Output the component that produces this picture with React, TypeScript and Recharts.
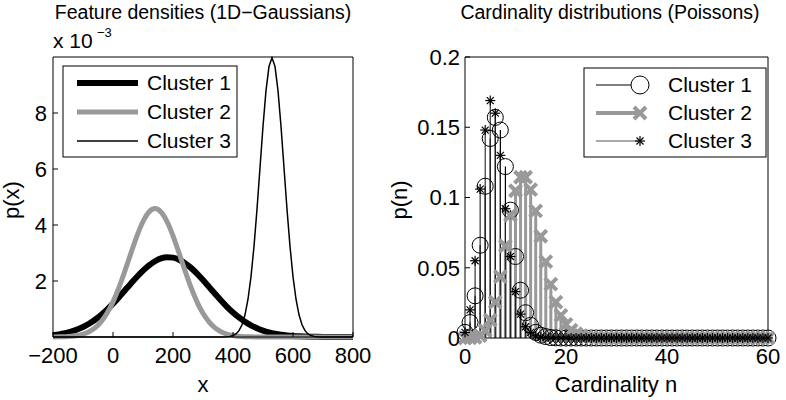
import React from 'react';
import { LineChart, Line, XAxis, YAxis, ScatterChart, Scatter, ErrorBar } from 'recharts';

const FONT = '"Liberation Sans", Arial, Helvetica, sans-serif';
const GRAY = '#999999';

// ---- left panel: feature densities (values in units of 1e-3) ----
const densityX = [
  -200, -180, -160, -140, -120, -100, -80, -60, -40, -20,
  0, 20, 40, 60, 80, 100, 120, 140, 160, 180,
  200, 220, 240, 260, 280, 300, 320, 340, 360, 380,
  400, 420, 440, 460, 480, 500, 520, 540, 560, 580,
  600, 620, 640, 660, 680, 700, 720, 740, 760, 780, 800,
];
const cluster1Density = [
  0.065, 0.095, 0.137, 0.192, 0.266, 0.359, 0.475, 0.617, 0.784, 0.976,
  1.19, 1.423, 1.667, 1.913, 2.151, 2.37, 2.559, 2.706, 2.805, 2.848,
  2.834, 2.762, 2.638, 2.469, 2.264, 2.034, 1.79, 1.544, 1.305, 1.08,
  0.876, 0.697, 0.543, 0.414, 0.31, 0.227, 0.163, 0.115, 0.079, 0.053,
  0.035, 0.023, 0.015, 0.009, 0.005, 0.003, 0.002, 0.001, 0.0005, 0.0003, 0.0002,
];
const cluster2Density = [
  0.002, 0.005, 0.012, 0.026, 0.053, 0.102, 0.188, 0.326, 0.539, 0.845,
  1.256, 1.771, 2.369, 3.004, 3.614, 4.125, 4.465, 4.585, 4.465, 4.125,
  3.614, 3.004, 2.369, 1.771, 1.256, 0.845, 0.539, 0.326, 0.188, 0.102,
  0.053, 0.026, 0.012, 0.005, 0.002, 0.001, 0, 0, 0, 0,
  0, 0, 0, 0, 0, 0, 0, 0, 0, 0, 0,
];
const cluster3X = [
  -200, 370, 380, 390, 400, 410, 420, 430, 440, 450, 460, 470, 480, 490, 500, 510, 520,
  530, 540, 550, 560, 570, 580, 590, 600, 610, 620, 630, 640, 650, 660, 670, 680, 690, 800,
];
const cluster3Density = [
  0, 0.003, 0.009, 0.022, 0.051, 0.111, 0.227, 0.438, 0.794, 1.349, 2.159, 3.237, 4.565, 6.047, 7.525, 8.798, 9.663,
  9.974, 9.663, 8.798, 7.525, 6.047, 4.565, 3.237, 2.159, 1.349, 0.794, 0.438, 0.227, 0.111, 0.051, 0.022, 0.009, 0.003, 0,
];
const densityXTicks = [-200, 0, 200, 400, 600, 800];
const densityYTicks = [2, 4, 6, 8];

// ---- right panel: cardinality distributions ----
const cardinality = [
  0, 1, 2, 3, 4, 5, 6, 7, 8, 9, 10, 11, 12, 13, 14, 15, 16, 17, 18, 19, 20,
  21, 22, 23, 24, 25, 26, 27, 28, 29, 30, 31, 32, 33, 34, 35, 36, 37, 38, 39, 40,
  41, 42, 43, 44, 45, 46, 47, 48, 49, 50, 51, 52, 53, 54, 55, 56, 57, 58, 59, 60,
];
const cluster1Poisson = [
  0.004, 0.011, 0.03, 0.066, 0.108, 0.142, 0.157, 0.148, 0.122, 0.091, 0.058, 0.034, 0.018, 0.009, 0.004, 0.002, 0.001, 0.0003, 0.0001, 0, 0,
  0, 0, 0, 0, 0, 0, 0, 0, 0, 0, 0, 0, 0, 0, 0, 0, 0, 0, 0, 0,
  0, 0, 0, 0, 0, 0, 0, 0, 0, 0, 0, 0, 0, 0, 0, 0, 0, 0, 0, 0,
];
const cluster2Poisson = [
  0, 0.0001, 0.0004, 0.0018, 0.0053, 0.0127, 0.0255, 0.0437, 0.0655, 0.0874, 0.1048, 0.1144, 0.1144, 0.1056, 0.0905, 0.0724, 0.0543, 0.0383, 0.0255, 0.0161, 0.0097,
  0.0055, 0.003, 0.0016, 0.0008, 0.0004, 0.0002, 0.0001, 0, 0, 0, 0, 0, 0, 0, 0, 0, 0, 0, 0, 0,
  0, 0, 0, 0, 0, 0, 0, 0, 0, 0, 0, 0, 0, 0, 0, 0, 0, 0, 0, 0,
];
const cluster3Poisson = [
  0.004, 0.02, 0.055, 0.106, 0.148, 0.169, 0.16, 0.13, 0.092, 0.058, 0.033, 0.017, 0.008, 0.004, 0.0015, 0.0005, 0.0002, 0, 0, 0, 0,
  0, 0, 0, 0, 0, 0, 0, 0, 0, 0, 0, 0, 0, 0, 0, 0, 0, 0, 0, 0,
  0, 0, 0, 0, 0, 0, 0, 0, 0, 0, 0, 0, 0, 0, 0, 0, 0, 0, 0, 0,
];
const cardXTicks = [0, 20, 40, 60];
const cardYTicks = [0, 0.05, 0.1, 0.15, 0.2];

const leftData = densityX.map((x, i) => ({ x, c1: cluster1Density[i], c2: cluster2Density[i] }));
const c3Data = cluster3X.map((x, i) => ({ x, c3: cluster3Density[i] }));
const toStems = (vals: number[]) => cardinality.map((n, i) => ({ n, p: vals[i], stem: [vals[i], 0] }));

const tickStyle = { fontSize: 22, fill: '#000', fontFamily: FONT };
const minus = (v: number) => String(v).replace('-', '\u2212');

const CircleMark = (props: any) => (
  <circle cx={props.cx} cy={props.cy} r={8} fill="none" stroke="#000" strokeWidth={1} />
);
const CrossMark = (props: any) => {
  const { cx, cy } = props;
  const s = 6;
  return (
    <g stroke={GRAY} strokeWidth={4}>
      <line x1={cx - s} y1={cy - s} x2={cx + s} y2={cy + s} />
      <line x1={cx - s} y1={cy + s} x2={cx + s} y2={cy - s} />
    </g>
  );
};
const StarMark = (props: any) => {
  const { cx, cy } = props;
  const s = 5;
  const d = 3.5;
  return (
    <g stroke="#000" strokeWidth={1.2}>
      <line x1={cx - s} y1={cy} x2={cx + s} y2={cy} />
      <line x1={cx} y1={cy - s} x2={cx} y2={cy + s} />
      <line x1={cx - d} y1={cy - d} x2={cx + d} y2={cy + d} />
      <line x1={cx - d} y1={cy + d} x2={cx + d} y2={cy - d} />
    </g>
  );
};

function DensityChart() {
  return (
    <LineChart width={393} height={400} data={leftData} margin={{ top: 56, right: 39, bottom: 33, left: 0 }}>
      <XAxis dataKey="x" type="number" domain={[-200, 800]} ticks={densityXTicks} tickFormatter={minus}
        stroke="#000" tick={tickStyle} tickSize={-5} tickMargin={15} height={30} />
      <XAxis xAxisId="top" orientation="top" dataKey="x" type="number" domain={[-200, 800]} ticks={densityXTicks}
        stroke="#000" tick={false} tickSize={-5} height={1} />
      <YAxis type="number" domain={[0, 10]} ticks={densityYTicks} stroke="#000" tick={tickStyle}
        tickSize={-5} tickMargin={11} width={53} />
      <YAxis yAxisId="right" orientation="right" type="number" domain={[0, 10]} ticks={densityYTicks}
        stroke="#000" tick={false} tickSize={-5} width={1} />
      <Line dataKey="c1" stroke="#000" strokeWidth={6} dot={false} isAnimationActive={false} type="monotone" />
      <Line dataKey="c2" stroke={GRAY} strokeWidth={5} dot={false} isAnimationActive={false} type="monotone" />
      <Line data={c3Data} dataKey="c3" stroke="#000" strokeWidth={1.5} dot={false} isAnimationActive={false} type="linear" />
    </LineChart>
  );
}

function CardinalityChart() {
  return (
    <ScatterChart width={393} height={400} margin={{ top: 56, right: 17, bottom: 32, left: 0 }}>
      <XAxis dataKey="n" type="number" domain={[0, 60]} ticks={cardXTicks} stroke="#000" tick={tickStyle}
        tickSize={-5} tickMargin={15} height={30} />
      <XAxis xAxisId="top" orientation="top" dataKey="n" type="number" domain={[0, 60]} ticks={cardXTicks}
        stroke="#000" tick={false} tickSize={-5} height={1} />
      <YAxis dataKey="p" type="number" domain={[0, 0.2]} ticks={cardYTicks} stroke="#000" tick={tickStyle}
        tickSize={-5} tickMargin={10} width={72} />
      <YAxis yAxisId="right" orientation="right" dataKey="p" type="number" domain={[0, 0.2]} ticks={cardYTicks}
        stroke="#000" tick={false} tickSize={-5} width={1} />
      <Scatter data={toStems(cluster1Poisson)} shape={CircleMark} isAnimationActive={false}>
        <ErrorBar dataKey="stem" direction="y" width={0} stroke="#000" strokeWidth={1.2} isAnimationActive={false} />
      </Scatter>
      <Scatter data={toStems(cluster2Poisson)} shape={CrossMark} isAnimationActive={false}>
        <ErrorBar dataKey="stem" direction="y" width={0} stroke={GRAY} strokeWidth={3} isAnimationActive={false} />
      </Scatter>
      <Scatter data={toStems(cluster3Poisson)} shape={StarMark} isAnimationActive={false}>
        <ErrorBar dataKey="stem" direction="y" width={0} stroke="#222" strokeWidth={1.1} isAnimationActive={false} />
      </Scatter>
    </ScatterChart>
  );
}

function Overlay() {
  const t = { fontFamily: FONT, fill: '#000' } as const;
  return (
    <svg width={786} height={400} style={{ position: 'absolute', left: 0, top: 0, pointerEvents: 'none' }}>
      <text x={203} y={19} fontSize={19.5} textAnchor="middle" {...t}>Feature densities (1D{'\u2212'}Gaussians)</text>
      <text x={610} y={19} fontSize={19.5} textAnchor="middle" {...t}>Cardinality distributions (Poissons)</text>
      <text x={53} y={48} fontSize={21} {...t}>x 10</text>
      <text x={97} y={37} fontSize={13} {...t}>{'\u2212'}3</text>
      <text x={203} y={392} fontSize={22} textAnchor="middle" {...t}>x</text>
      <text x={616} y={392} fontSize={22} textAnchor="middle" {...t}>Cardinality n</text>
      <text x={19} y={200} fontSize={22} textAnchor="middle" transform="rotate(-90 19 200)" {...t}>p(x)</text>
      <text x={407} y={200} fontSize={22} textAnchor="middle" transform="rotate(-90 407 200)" {...t}>p(n)</text>

      {/* left legend */}
      <rect x={63} y={66} width={174} height={91} fill="#fff" stroke="#000" strokeWidth={1} />
      <line x1={77} y1={83} x2={138} y2={83} stroke="#000" strokeWidth={6} />
      <line x1={77} y1={112} x2={138} y2={112} stroke={GRAY} strokeWidth={5} />
      <line x1={77} y1={141} x2={138} y2={141} stroke="#000" strokeWidth={1.5} />
      <text x={147} y={90} fontSize={21} {...t}>Cluster 1</text>
      <text x={147} y={119} fontSize={21} {...t}>Cluster 2</text>
      <text x={147} y={148} fontSize={21} {...t}>Cluster 3</text>

      {/* right legend */}
      <rect x={584} y={68} width={182} height={89} fill="#fff" stroke="#000" strokeWidth={1} />
      <line x1={596} y1={85} x2={631} y2={85} stroke="#000" strokeWidth={1} />
      <circle cx={640} cy={85} r={9} fill="none" stroke="#000" strokeWidth={1} />
      <line x1={596} y1={113} x2={640} y2={113} stroke={GRAY} strokeWidth={4} />
      <CrossMark cx={640} cy={113} />
      <line x1={596} y1={141} x2={640} y2={141} stroke="#555" strokeWidth={1} />
      <StarMark cx={640} cy={141} />
      <text x={668} y={92} fontSize={21} {...t}>Cluster 1</text>
      <text x={668} y={120} fontSize={21} {...t}>Cluster 2</text>
      <text x={668} y={148} fontSize={21} {...t}>Cluster 3</text>
    </svg>
  );
}

export default function App() {
  return (
    <div style={{ position: 'absolute', left: 0, top: 0, width: 786, height: 400, background: '#fff', fontFamily: FONT }}>
      <div style={{ position: 'absolute', left: 0, top: 0 }}>
        <DensityChart />
      </div>
      <div style={{ position: 'absolute', left: 393, top: 0 }}>
        <CardinalityChart />
      </div>
      <Overlay />
    </div>
  );
}
